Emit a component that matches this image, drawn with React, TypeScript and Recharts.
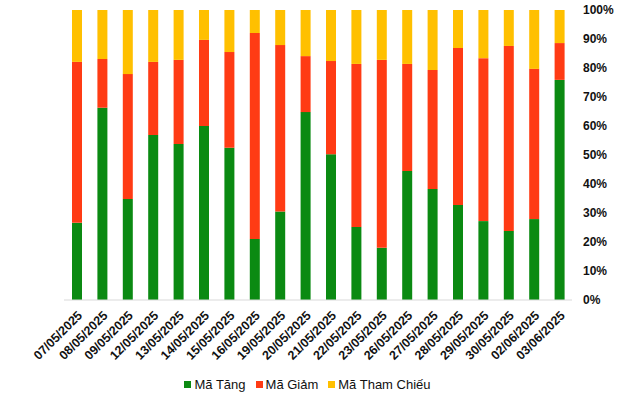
import {Bar, BarChart, Legend, XAxis, YAxis} from "recharts";

const dates = [
  "07/05/2025", "08/05/2025", "09/05/2025", "12/05/2025", "13/05/2025",
  "14/05/2025", "15/05/2025", "16/05/2025", "19/05/2025", "20/05/2025",
  "21/05/2025", "22/05/2025", "23/05/2025", "26/05/2025", "27/05/2025",
  "28/05/2025", "29/05/2025", "30/05/2025", "02/06/2025", "03/06/2025",
];
const tang = [26.6, 66.3, 34.8, 56.9, 53.8, 60.0, 52.5, 21.0, 30.5, 64.8, 50.3, 25.2, 18.0, 44.5, 38.3, 32.8, 27.2, 23.8, 27.9, 75.9];
const giam = [55.5, 16.8, 43.1, 25.2, 29.0, 29.7, 33.0, 71.1, 57.4, 19.3, 32.1, 56.2, 64.8, 36.9, 41.0, 54.1, 56.2, 63.8, 51.8, 12.7];
const thamChieu = [17.9, 16.9, 22.1, 17.9, 17.2, 10.3, 14.5, 7.9, 12.1, 15.9, 17.6, 18.6, 17.2, 18.6, 20.7, 13.1, 16.6, 12.4, 20.3, 11.4];
const yTicks = [0, 10, 20, 30, 40, 50, 60, 70, 80, 90, 100];

const COLOR = {tang: "#0b8a12", giam: "#ff3b14", tham: "#ffc000", text: "#111111", axis: "#d9d9d9"};
const FONT = "'Liberation Sans', Arial, sans-serif";

const series = [
  {key: "tang", name: "Mã Tăng", color: COLOR.tang},
  {key: "giam", name: "Mã Giảm", color: COLOR.giam},
  {key: "tham", name: "Mã Tham Chiếu", color: COLOR.tham},
];

const data = dates.map((d, i) => ({date: d, tang: tang[i], giam: giam[i], tham: thamChieu[i]}));

// fixed order, recharts sorts legend payload by name otherwise
const LegendRow = () => (
  <div style={{display: "flex", justifyContent: "center", alignItems: "center", height: 20, fontFamily: FONT, fontSize: 13, color: COLOR.text}}>
    {series.map((s, i) => (
      <span key={s.key} style={{display: "inline-flex", alignItems: "center", marginLeft: i ? 10 : 0}}>
        <span style={{width: 7, height: 7, background: s.color, display: "inline-block", marginRight: 3}}/>
        {s.name}
      </span>
    ))}
  </div>
);

export default function App() {
  return <div style={{position: "absolute", left: 0, top: 0, width: 640, height: 394, background: "#fff"}}>
    <BarChart width={640} height={394} data={data} margin={{top: 10, right: 8, bottom: 0, left: 64}} barSize={10}>
      <XAxis
        dataKey="date"
        interval={0}
        angle={-45}
        textAnchor="end"
        height={74}
        tickLine={false}
        tickMargin={4}
        axisLine={{stroke: COLOR.axis}}
        tick={{fontSize: 12.5, fontWeight: 700, fill: COLOR.text, fontFamily: FONT}}
      />
      <YAxis
        orientation="right"
        domain={[0, 100]}
        ticks={yTicks}
        width={60}
        tickLine={false}
        axisLine={false}
        tickMargin={5}
        tickFormatter={(v: number) => `${v}%`}
        tick={{fontSize: 12, fontWeight: 700, fill: COLOR.text, fontFamily: FONT, textAnchor: "start"}}
      />
      <Legend verticalAlign="bottom" height={20} content={<LegendRow/>} wrapperStyle={{left: 0, width: 615}}/>
      {series.map(s => (
        <Bar key={s.key} dataKey={s.key} name={s.name} stackId="a" fill={s.color} isAnimationActive={false}/>
      ))}
    </BarChart>
  </div>
}
